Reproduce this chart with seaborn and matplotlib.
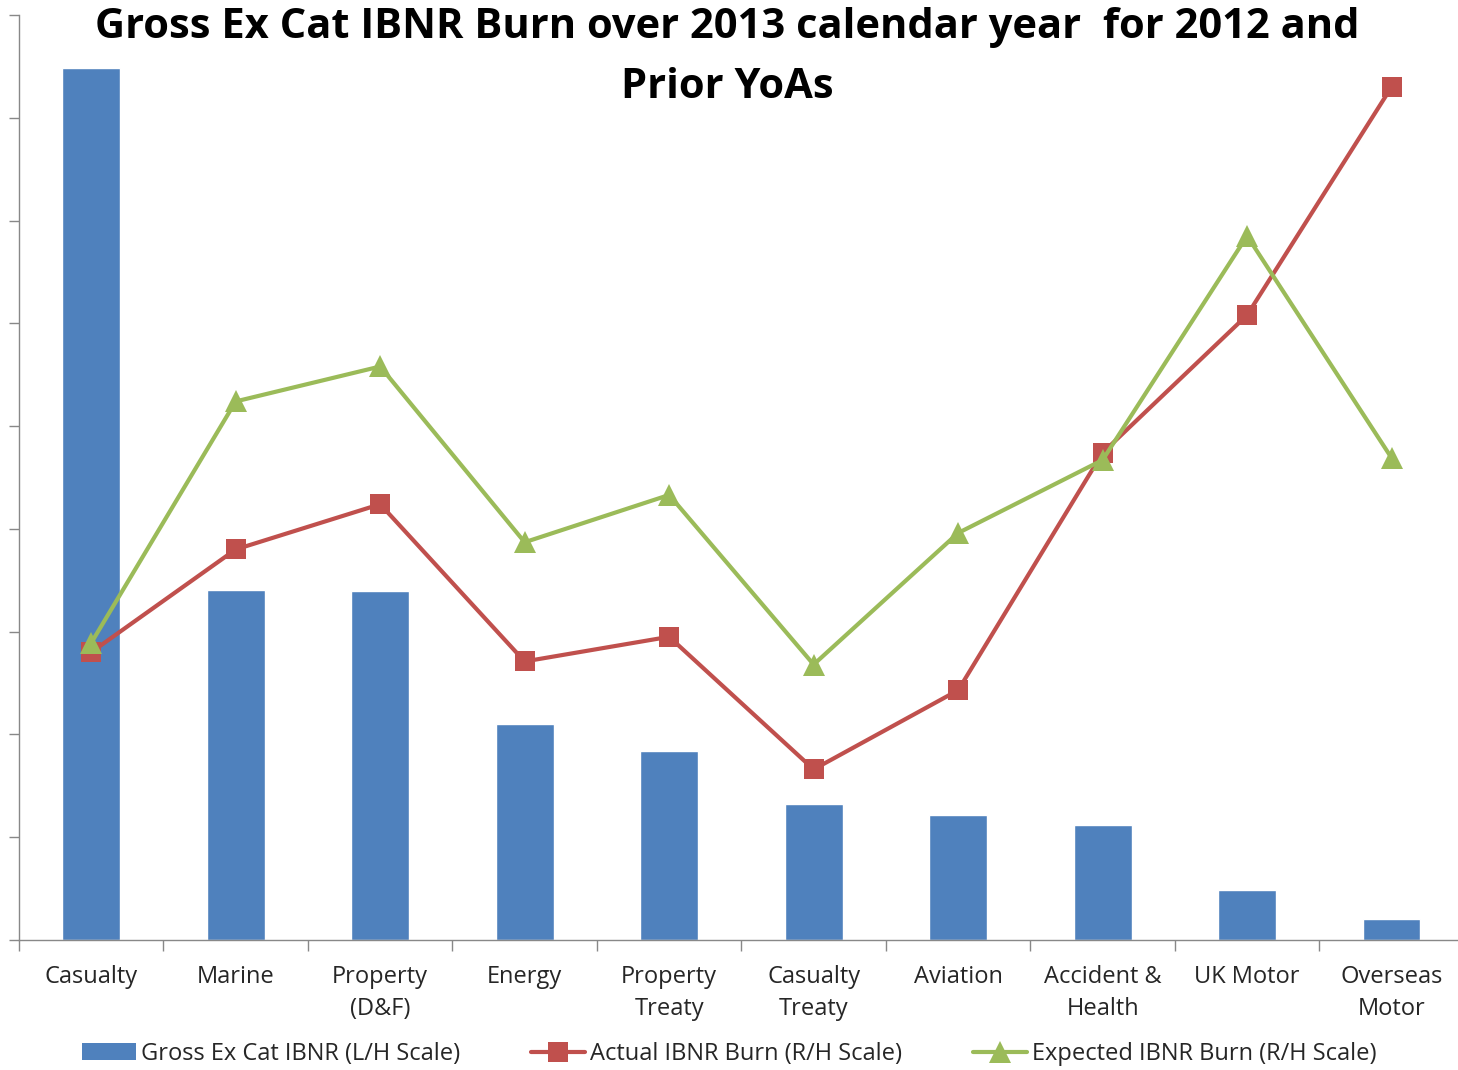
import matplotlib
matplotlib.use("Agg")
import matplotlib.pyplot as plt
from matplotlib.lines import Line2D
from matplotlib.patches import Patch
import numpy as np
import pandas as pd
import seaborn as sns

categories = ["Casualty", "Marine", "Property\n(D&F)", "Energy", "Property\nTreaty",
              "Casualty\nTreaty", "Aviation", "Accident &\nHealth", "UK Motor", "Overseas\nMotor"]
gross_ibnr = [8.48, 3.41, 3.40, 2.10, 1.84, 1.32, 1.22, 1.12, 0.49, 0.20]
actual_burn = [2.80, 3.80, 4.24, 2.71, 2.95, 1.66, 2.43, 4.74, 6.08, 8.30]
expected_burn = [2.89, 5.24, 5.58, 3.87, 4.33, 2.68, 3.96, 4.67, 6.85, 4.69]
title_lines = ["Gross Ex Cat IBNR Burn over 2013 calendar year  for 2012 and", "Prior YoAs"]

BLUE = "#4F81BD"
RED = "#C0504D"
GREEN = "#9BBB59"
FONT = "Open Sans"

sns.set_theme(style="white")
plt.rcParams["font.family"] = [FONT, "DejaVu Sans"]

W, H = 1458, 1070
fig = plt.figure(figsize=(W / 100, H / 100), dpi=100)
ax = fig.add_axes([0.013, 0.1215, 0.991, 0.8645])

idx = np.arange(len(categories))
df = pd.DataFrame({"pos": idx, "cat": categories, "gross": gross_ibnr,
                   "actual": actual_burn, "expected": expected_burn})

sns.barplot(data=df, x="pos", y="gross", color=BLUE, width=0.4, ax=ax,
            saturation=1, native_scale=True)

ax2 = ax.twinx()
sns.lineplot(data=df, x="pos", y="actual", color=RED, lw=3, marker="s",
             markersize=14, markeredgewidth=0, sort=False, ax=ax2)
sns.lineplot(data=df, x="pos", y="expected", color=GREEN, lw=3, marker="^",
             markersize=16, markeredgewidth=0, sort=False, ax=ax2)

for a in (ax, ax2):
    a.set_xlim(-0.5, len(categories) - 0.5)
    a.set_ylim(0, 9)
    a.set_xlabel("")
    a.set_ylabel("")

ax2.axis("off")

ax.set_yticks(np.arange(0, 10))
ax.set_yticklabels([])
ax.tick_params(axis="y", direction="out", length=7, width=1, color="#888888", left=True)

ax.set_xticks(idx)
ax.set_xticklabels(categories, fontsize=17, color="#262626", linespacing=1.45)
ax.tick_params(axis="x", which="major", length=0, pad=18)
ax.set_xticks(np.arange(-0.5, len(categories)), minor=True)
ax.tick_params(axis="x", which="minor", direction="out", length=8, width=1,
               color="#888888", bottom=True)

for s in ["top", "right"]:
    ax.spines[s].set_visible(False)
for s in ["left", "bottom"]:
    ax.spines[s].set_color("#888888")
    ax.spines[s].set_linewidth(1)

for line, yc in zip(title_lines, [27, 87]):
    fig.text(727 / W, 1 - yc / H, line, ha="center", va="center",
             fontsize=30, fontweight="bold", color="black")

handles = [
    Patch(facecolor=BLUE, edgecolor="none"),
    Line2D([0], [0], color=RED, lw=3, marker="s", markersize=14, markeredgewidth=0),
    Line2D([0], [0], color=GREEN, lw=3, marker="^", markersize=16, markeredgewidth=0),
]
labels = ["Gross Ex Cat IBNR (L/H Scale)", "Actual IBNR Burn (R/H Scale)",
          "Expected IBNR Burn (R/H Scale)"]
fig.legend(handles, labels, loc="center", bbox_to_anchor=(0.5, 1 - 1054 / H), ncol=3,
           frameon=False, fontsize=17, handlelength=2.3, handletextpad=0.2,
           columnspacing=3.0, labelcolor="#262626")

fig.savefig("out.png", dpi=100)
